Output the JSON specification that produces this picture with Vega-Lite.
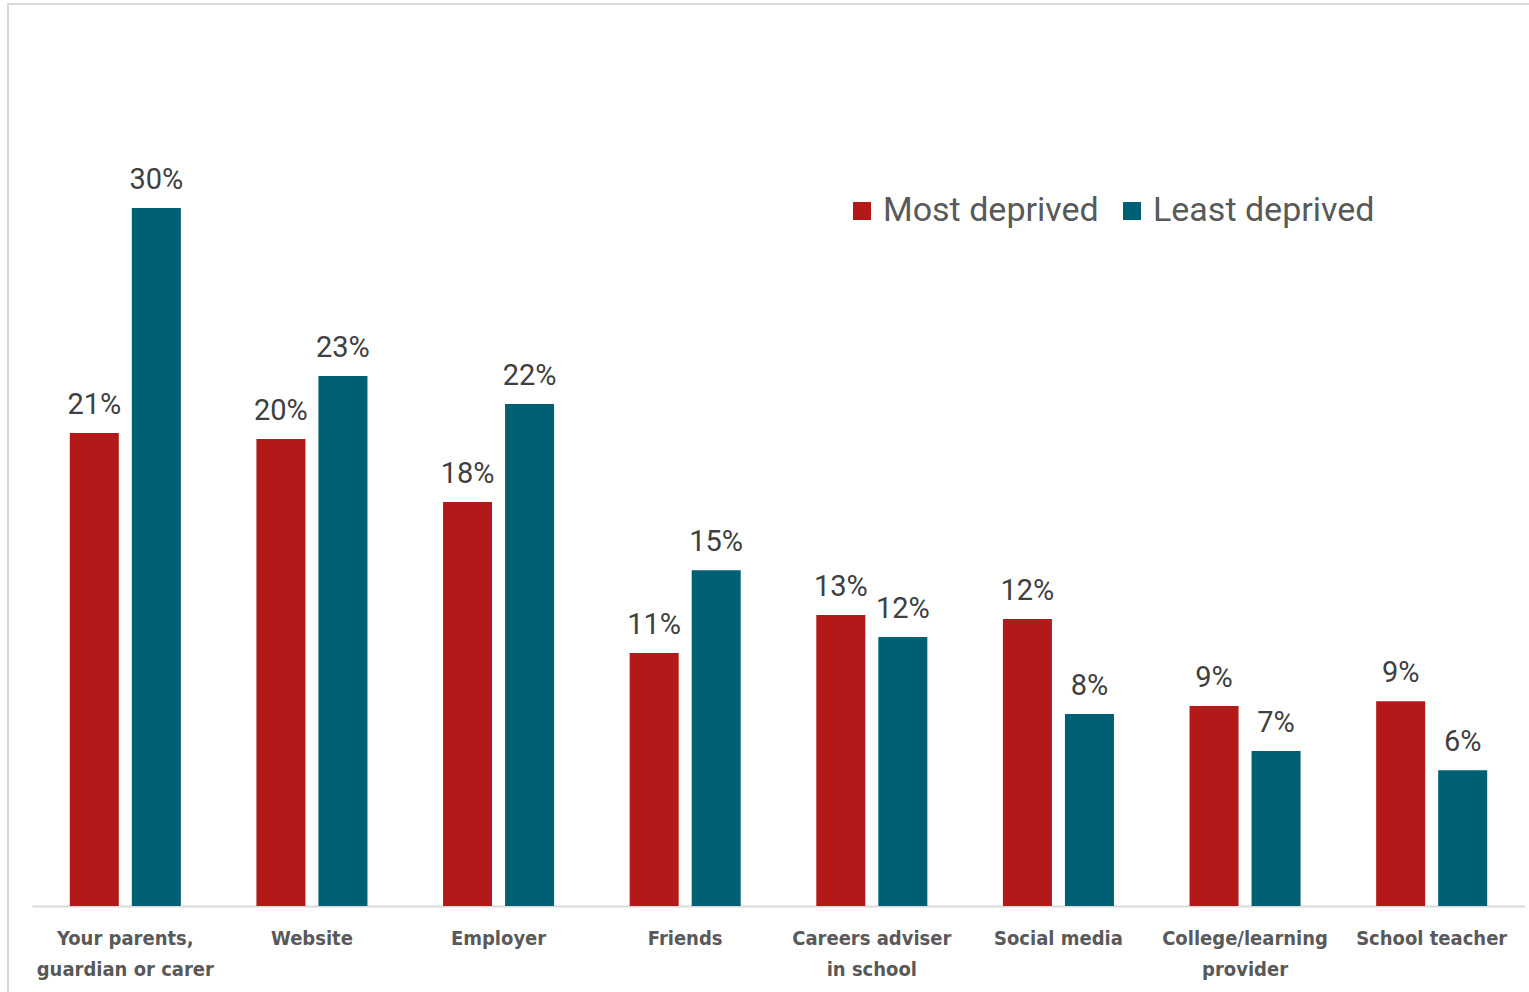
{
  "$schema": "https://vega.github.io/schema/vega-lite/v6.json",
  "autosize": "none",
  "padding": {"left": 8, "top": 4, "right": 0, "bottom": 0},
  "width": 1530,
  "height": 1000,
  "background": "white",
  "config": {
    "view": {"stroke": "#d9d9d9", "strokeWidth": 2},
    "font": "Roboto"
  },
  "data": {
    "values": [
      {"source": "Your parents, guardian or carer", "group": "Most deprived", "value": 0.2057},
      {"source": "Your parents, guardian or carer", "group": "Least deprived", "value": 0.3035},
      {"source": "Website", "group": "Most deprived", "value": 0.203},
      {"source": "Website", "group": "Least deprived", "value": 0.2304},
      {"source": "Employer", "group": "Most deprived", "value": 0.1757},
      {"source": "Employer", "group": "Least deprived", "value": 0.2183},
      {"source": "Friends", "group": "Most deprived", "value": 0.11},
      {"source": "Friends", "group": "Least deprived", "value": 0.146},
      {"source": "Careers adviser in school", "group": "Most deprived", "value": 0.1265},
      {"source": "Careers adviser in school", "group": "Least deprived", "value": 0.117},
      {"source": "Social media", "group": "Most deprived", "value": 0.1248},
      {"source": "Social media", "group": "Least deprived", "value": 0.0835},
      {"source": "College/learning provider", "group": "Most deprived", "value": 0.087},
      {"source": "College/learning provider", "group": "Least deprived", "value": 0.0674},
      {"source": "School teacher", "group": "Most deprived", "value": 0.089},
      {"source": "School teacher", "group": "Least deprived", "value": 0.059}
    ]
  },
  "encoding": {
    "x": {
      "field": "source",
      "type": "nominal",
      "sort": null,
      "scale": {"range": [24, 1517], "paddingInner": 0.405, "paddingOuter": 0.2025},
      "axis": {
        "title": null,
        "orient": "bottom",
        "offset": -98,
        "labelAngle": 0,
        "ticks": false,
        "domainColor": "#d9d9d9",
        "domainWidth": 2,
        "labelFont": "DejaVu Sans Condensed, Roboto Condensed, Roboto",
        "labelFontWeight": "bold",
        "labelFontSize": 20,
        "labelColor": "#595959",
        "labelPadding": 22,
        "labelLineHeight": 31,
        "labelBaseline": "top",
        "labelLimit": 300,
        "labelExpr": "datum.value == 'Your parents, guardian or carer' ? ['Your parents,', 'guardian or carer'] : datum.value == 'Careers adviser in school' ? ['Careers adviser', 'in school'] : datum.value == 'College/learning provider' ? ['College/learning', 'provider'] : datum.value"
      }
    },
    "xOffset": {
      "field": "group",
      "type": "nominal",
      "sort": ["Most deprived", "Least deprived"],
      "scale": {"paddingInner": 0.2097, "paddingOuter": 0}
    },
    "y": {
      "field": "value",
      "type": "quantitative",
      "scale": {"domain": [0, 0.36783], "range": [902, 56]},
      "axis": null
    }
  },
  "layer": [
    {
      "mark": {"type": "bar"},
      "encoding": {
        "color": {
          "field": "group",
          "type": "nominal",
          "sort": ["Most deprived", "Least deprived"],
          "scale": {"domain": ["Most deprived", "Least deprived"], "range": ["#b31919", "#006073"]},
          "legend": {
            "title": null,
            "orient": "none",
            "legendX": 837,
            "legendY": 190,
            "direction": "horizontal",
            "symbolType": "square",
            "symbolSize": 324,
            "symbolStrokeWidth": 0,
            "labelFontSize": 34,
            "labelColor": "#595959",
            "labelFont": "Roboto",
            "labelLimit": 400,
            "columnPadding": 16,
            "labelOffset": 4,
            "padding": 0
          }
        }
      }
    },
    {
      "mark": {"type": "text", "dy": -19, "baseline": "alphabetic", "fontSize": 29, "color": "#404040"},
      "encoding": {
        "text": {"field": "value", "type": "quantitative", "format": ".0%"}
      }
    }
  ]
}
